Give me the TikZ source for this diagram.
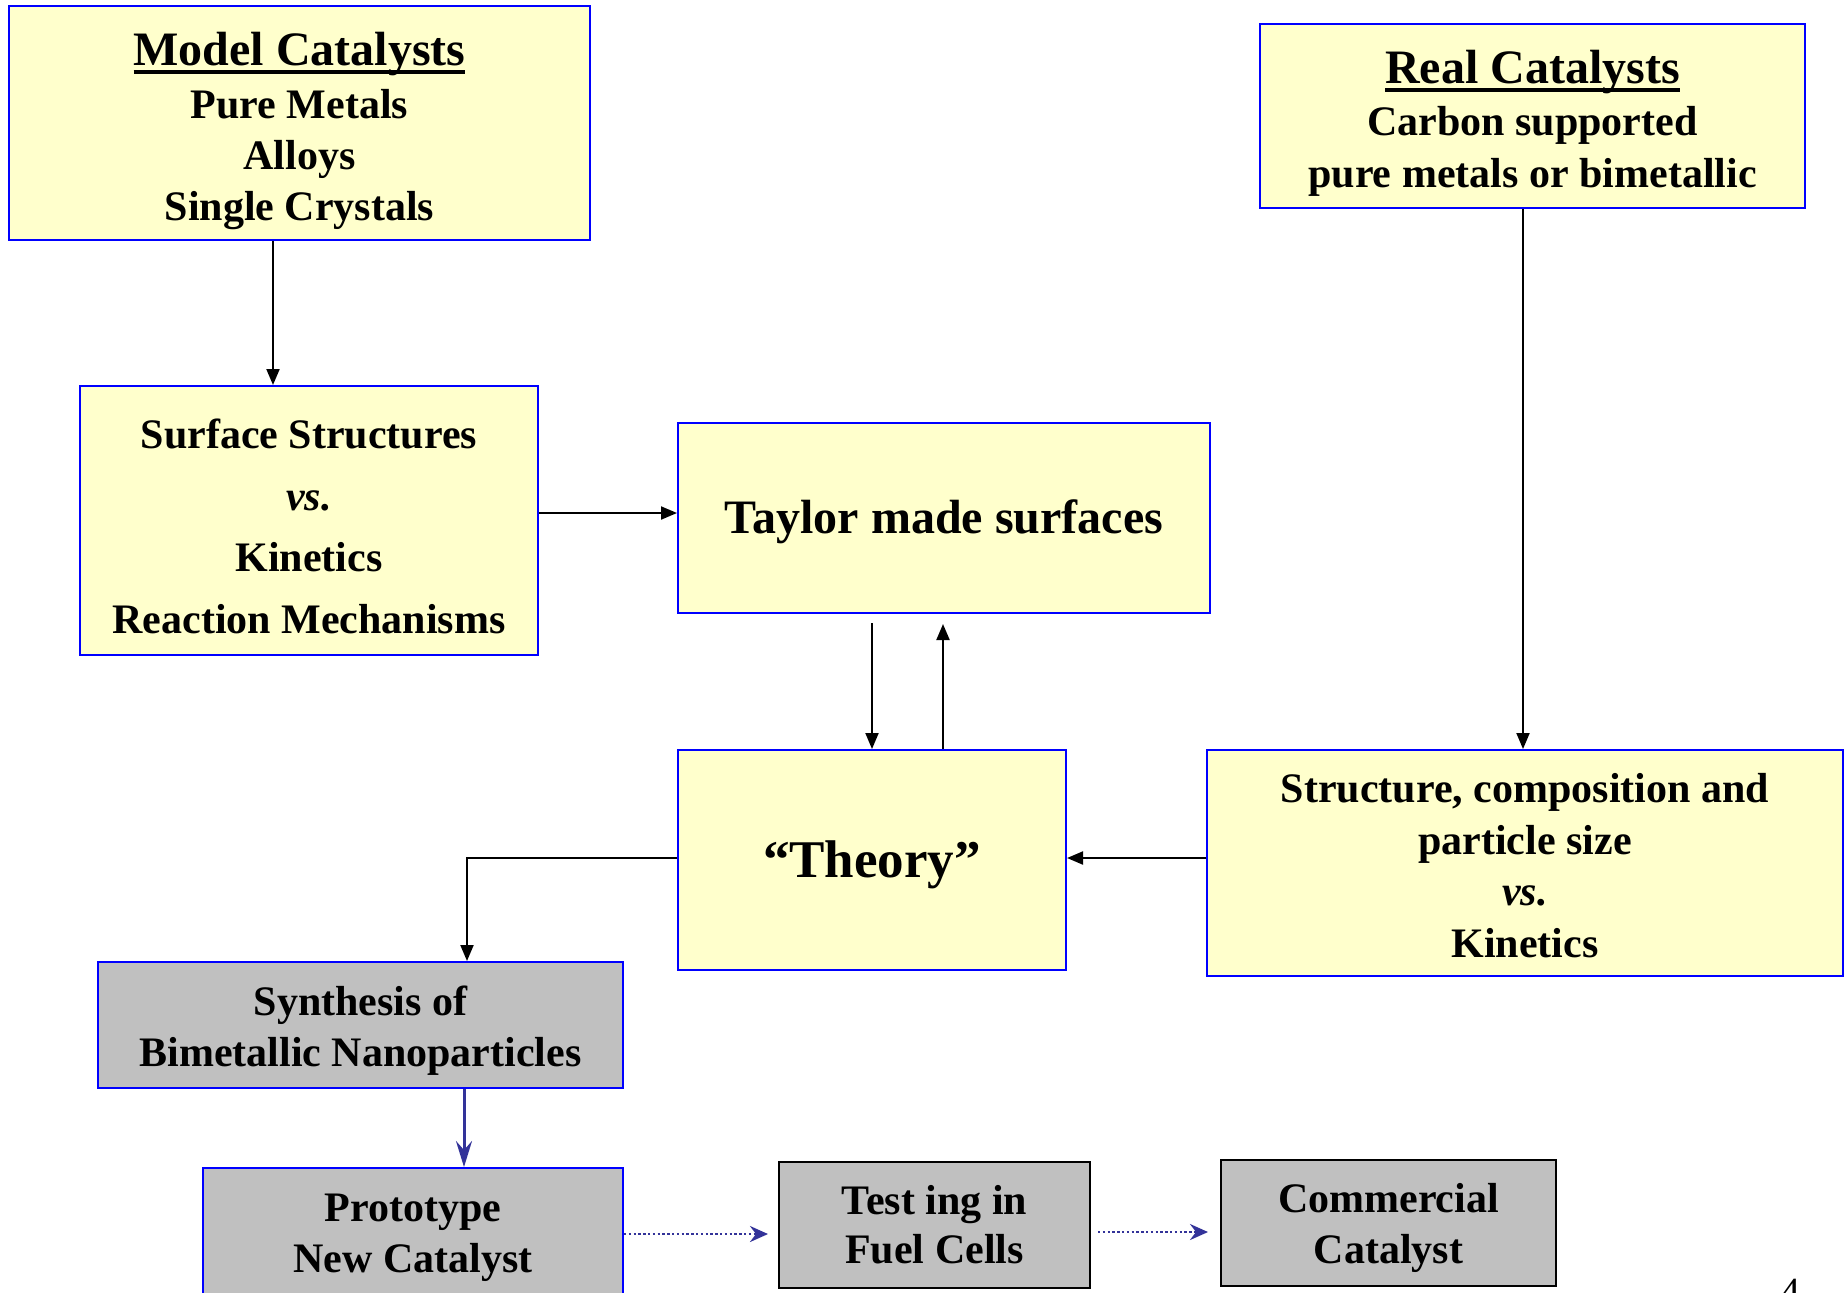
\documentclass[tikz,border=0pt]{standalone}
\usepackage{fontspec}
\setmainfont{Liberation Serif}
\usetikzlibrary{arrows.meta,calc}
\definecolor{boxyellow}{HTML}{FFFFCC}
\definecolor{boxgray}{HTML}{C0C0C0}
\definecolor{boxblue}{HTML}{0000FF}
\definecolor{arrblue}{HTML}{333399}
\newcommand\myul[1]{\setbox0\hbox{#1}\rlap{\rule[-0.17em]{\wd0}{0.08em}}\box0}
\begin{document}
\begin{tikzpicture}[x=0.5pt,y=-0.5pt,
  basebox/.style={line width=1pt, inner sep=0pt},
  ybox/.style={basebox, draw=boxblue, fill=boxyellow},
  gbox/.style={basebox, draw=boxblue, fill=boxgray},
  kbox/.style={basebox, draw=black, fill=boxgray},
  txt/.style={align=center, inner sep=0pt, font=\bfseries\fontsize{21}{25.5}\selectfont},
  blk/.style={line width=1pt, -{Triangle[length=8pt,width=6.5pt]}},
  bluearr/.style={arrblue, line width=1.5pt, -{Stealth[length=13pt,width=8pt,inset=4.5pt]}},
  dotarr/.style={arrblue, line width=1.4pt, dash pattern=on 1.2pt off 1.2pt, -{Stealth[length=9pt,width=8pt,inset=3pt]}}
]
\useasboundingbox (0,0) rectangle (1846,1292);
\fill[white] (0,0) rectangle (1846,1292);

% boxes
\node[ybox, minimum width=290.5pt, minimum height=117pt] (model) at (299.5,123) {};
\node[ybox, minimum width=272.5pt, minimum height=92pt] (real) at (1532.5,116) {};
\node[ybox, minimum width=229pt, minimum height=134.5pt] (surface) at (309,520.5) {};
\node[ybox, minimum width=266pt, minimum height=95pt] (taylor) at (944,518) {};
\node[ybox, minimum width=194pt, minimum height=110pt] (theory) at (872,860) {};
\node[ybox, minimum width=318pt, minimum height=113pt] (structure) at (1525,863) {};
\node[gbox, minimum width=262.5pt, minimum height=63pt] (synth) at (360.5,1025) {};
\node[gbox, minimum width=210pt, minimum height=65pt] (proto) at (413,1233) {};
\node[kbox, minimum width=155.5pt, minimum height=63pt] (testing) at (934.5,1225) {};
\node[kbox, minimum width=167.5pt, minimum height=63pt] (commercial) at (1388.5,1223) {};

% texts
\node[txt] (modelt) at ([yshift=-4.2pt]model.center)
  {{\fontsize{24}{25.5}\selectfont\myul{Model Catalysts}}\\[1pt] Pure Metals\\ Alloys\\ Single Crystals};
\node[txt, font=\bfseries\fontsize{21}{26}\selectfont] (realt) at ([yshift=-3.6pt]real.center)
  {{\fontsize{24}{26}\selectfont\myul{Real Catalysts}}\\ Carbon supported\\ pure metals or bimetallic};
\node[txt, font=\bfseries\fontsize{21}{30.8}\selectfont] (surfacet) at ([yshift=-3pt]surface.center)
  {Surface Structures\\ \textit{vs.}\\ Kinetics\\ Reaction Mechanisms};
\node[txt, font=\bfseries\fontsize{24}{28}\selectfont] (taylort) at ([yshift=-2pt]taylor.center)
  {Taylor made surfaces};
\node[txt, font=\bfseries\fontsize{26.5}{30}\selectfont] (theoryt) at ([yshift=-2.5pt]theory.center)
  {“Theory”};
\node[txt, font=\bfseries\fontsize{21}{25.7}\selectfont] (structuret) at ([yshift=-1.3pt]structure.center)
  {Structure, composition and\\ particle size\\ \textit{vs.}\\ Kinetics};
\node[txt] (syntht) at ([yshift=-3pt]synth.center)
  {Synthesis of\\ Bimetallic Nanoparticles};
\node[txt] (protot) at ([yshift=-2.5pt]proto.center)
  {Prototype\\ New Catalyst};
\node[txt, font=\bfseries\fontsize{21}{24.5}\selectfont] (testingt) at (testing.center)
  {Test ing in\\ Fuel Cells};
\node[txt] (commercialt) at ([yshift=-2.5pt]commercial.center)
  {Commercial\\ Catalyst};
\node[anchor=north, inner sep=0pt, font=\fontsize{20}{24}\selectfont] (pagenum) at (1790,1279) {4};

% connector positions
\coordinate (c1) at (273,0);
\coordinate (c2) at (1523,0);
\coordinate (c3) at (0,513);
\coordinate (c4) at (872,0);
\coordinate (c5) at (943,0);
\coordinate (c6) at (0,858);
\coordinate (c7) at (467,0);
\coordinate (c8) at (464,0);
\coordinate (c9) at (0,1234);
\coordinate (c10) at (0,1232);

\draw[blk] (model.south -| c1) -- (surface.north -| c1);
\draw[blk] (real.south -| c2) -- (structure.north -| c2);
\draw[blk] (surface.east |- c3) -- (taylor.west |- c3);
\draw[blk] ($(taylor.south -| c4)+(0,9)$) -- (theory.north -| c4);
\draw[blk] (theory.north -| c5) -- ($(taylor.south -| c5)+(0,10)$);
\draw[blk] (structure.west |- c6) -- (theory.east |- c6);
\draw[blk] (theory.west |- c6) -| (synth.north -| c7);
\draw[bluearr] (synth.south -| c8) -- (proto.north -| c8);
\draw[dotarr] (proto.east |- c9) -- ($(testing.west |- c9)+(-10,0)$);
\draw[dotarr] ($(testing.east |- c10)+(7,0)$) -- ($(commercial.west |- c10)+(-12,0)$);
\end{tikzpicture}
\end{document}
